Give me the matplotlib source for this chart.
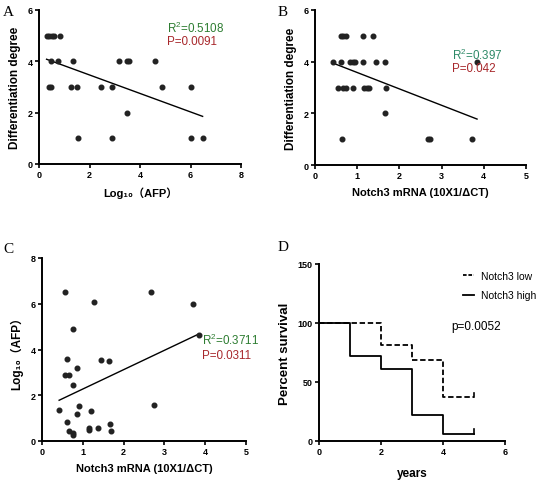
import numpy as np
import matplotlib
matplotlib.use("Agg")
import matplotlib.pyplot as plt
from matplotlib.lines import Line2D

plt.rcParams['font.family'] = ['Liberation Sans', 'Noto Sans CJK SC', 'DejaVu Sans']
plt.rcParams['mathtext.fontset'] = 'custom'
plt.rcParams['mathtext.rm'] = 'Liberation Sans'
plt.rcParams['mathtext.it'] = 'Liberation Sans:italic'
plt.rcParams['mathtext.bf'] = 'Liberation Sans:bold'

# ---- data ----
# A: Log10(AFP) vs differentiation degree
a_x = [0.3, 0.4, 0.5, 0.6, 0.85, 0.49, 0.75, 1.35, 3.17, 3.5, 3.58, 4.6,
       0.4, 0.46, 1.28, 1.5, 2.44, 2.89, 4.86, 6.03, 3.48, 1.56, 2.89, 6.0, 6.48]
a_y = [5, 5, 5, 5, 5, 4, 4, 4, 4, 4, 4, 4,
       3, 3, 3, 3, 3, 3, 3, 3, 2, 1, 1, 1, 1]

# B: Notch3 mRNA vs differentiation degree
b_x = [0.61, 0.66, 0.74, 1.13, 1.38,
       0.42, 0.61, 0.83, 0.89, 0.95, 1.13, 1.45, 1.66, 3.84,
       0.55, 0.66, 0.74, 0.89, 1.17, 1.23, 1.28, 1.69,
       1.65, 0.65, 2.67, 2.73, 3.72]
b_y = [5, 5, 5, 5, 5,
       4, 4, 4, 4, 4, 4, 4, 4, 4,
       3, 3, 3, 3, 3, 3, 3, 3,
       2, 1, 1, 1, 1]

# C: Notch3 mRNA vs Log10(AFP)
c_x = [0.56, 1.27, 2.66, 3.70, 3.84, 0.76, 0.61, 1.45, 1.65, 0.87, 0.57, 0.66,
       0.76, 0.42, 0.90, 0.86, 1.20, 2.74, 0.61, 0.65, 0.75, 0.75, 1.14, 1.14,
       1.38, 1.66, 1.69]
c_y = [6.53, 6.06, 6.5, 6.01, 4.64, 4.89, 3.58, 3.55, 3.50, 3.18, 2.89, 2.89,
       2.45, 1.34, 1.52, 1.17, 1.30, 1.58, 0.85, 0.44, 0.36, 0.26, 0.57, 0.48,
       0.58, 0.76, 0.45]

# D: survival
low_t = [0, 2, 3, 4, 5]
low_s = [100, 81, 69, 37, 37]
high_t = [0, 1, 2, 3, 4, 5]
high_s = [100, 72, 61, 22, 6, 6]

green = "#2e7d32"
teal = "#2e8a68"
red = "#a8282c"
dot = "#222222"
log_afp = "Log₁₀（AFP）"

fig = plt.figure(figsize=(5.5, 4.85), dpi=100)


def style(ax):
    for s in ["top", "right"]:
        ax.spines[s].set_visible(False)
    for s in ["left", "bottom"]:
        ax.spines[s].set_linewidth(1.4)
    ax.tick_params(direction="out", length=3, width=1.2, labelsize=6.5, pad=1.5)
    for lab in ax.get_xticklabels() + ax.get_yticklabels():
        lab.set_fontweight("bold")


def scatter_fit(ax, x, y):
    ax.scatter(x, y, s=11, color=dot, zorder=3, clip_on=False)
    k, b = np.polyfit(x, y, 1)
    xs = np.array([min(x), max(x)])
    ax.plot(xs, k * xs + b, color="black", lw=1.0)


# ---- A ----
ax = fig.add_axes([39 / 550, 1 - 165 / 485, 202 / 550, 154 / 485])
scatter_fit(ax, a_x, a_y)
ax.set_xlim(0, 8)
ax.set_ylim(0, 6)
ax.set_xticks([0, 2, 4, 6, 8])
ax.set_yticks([0, 2, 4, 6])
style(ax)
ax.set_xlabel(log_afp, fontsize=8, fontweight="bold", labelpad=5)
ax.set_ylabel("Differentiation degree", fontsize=8.5, fontweight="bold", labelpad=5)
ax.text(0.635, 0.89, r"R$^2$=0.5108", transform=ax.transAxes, color=green,
        fontsize=8.4, va="center")
ax.text(0.635, 0.80, "P=0.0091", transform=ax.transAxes, color=red,
        fontsize=8.4, va="center")

# ---- B ----
ax = fig.add_axes([315 / 550, 1 - 166 / 485, 211 / 550, 155 / 485])
scatter_fit(ax, b_x, b_y)
ax.set_xlim(0, 5)
ax.set_ylim(0, 6)
ax.set_xticks([0, 1, 2, 3, 4, 5])
ax.set_yticks([0, 2, 4, 6])
style(ax)
ax.set_xlabel("Notch3 mRNA (10X1/ΔCT)", fontsize=8, fontweight="bold", labelpad=5)
ax.set_ylabel("Differentiation degree", fontsize=8.5, fontweight="bold", labelpad=5)
ax.text(0.65, 0.712, r"R$^2$=0.397", transform=ax.transAxes, color=teal,
        fontsize=8.4, va="center")
ax.text(0.65, 0.628, "P=0.042", transform=ax.transAxes, color=red,
        fontsize=8.4, va="center")

# ---- C ----
ax = fig.add_axes([42 / 550, 1 - 442 / 485, 204 / 550, 183 / 485])
scatter_fit(ax, c_x, c_y)
ax.set_xlim(0, 5)
ax.set_ylim(0, 8)
ax.set_xticks([0, 1, 2, 3, 4, 5])
ax.set_yticks([0, 2, 4, 6, 8])
style(ax)
ax.set_xlabel("Notch3 mRNA (10X1/ΔCT)", fontsize=8, fontweight="bold", labelpad=5)
ax.set_ylabel(log_afp, fontsize=8.5, fontweight="bold", labelpad=5)
ax.text(0.784, 0.557, r"R$^2$=0.3711", transform=ax.transAxes, color=green,
        fontsize=8.4, va="center")
ax.text(0.784, 0.47, "P=0.0311", transform=ax.transAxes, color=red,
        fontsize=8.4, va="center")

# ---- D ----
ax = fig.add_axes([319 / 550, 1 - 442 / 485, 186 / 550, 177 / 485])
ax.step(low_t, low_s, where="post", color="black", lw=1.3, linestyle=(0, (3, 1.5)))
ax.step(high_t, high_s, where="post", color="black", lw=1.3)
# censor ticks at the last time point
ax.plot([low_t[-1], low_t[-1]], [low_s[-1], low_s[-1] + 4], color="black", lw=1.2)
ax.plot([high_t[-1], high_t[-1]], [high_s[-1], high_s[-1] + 4], color="black", lw=1.2)
ax.set_xlim(0, 6)
ax.set_ylim(0, 150)
ax.set_xticks([0, 2, 4, 6])
ax.set_yticks([0, 50, 100, 150])
style(ax)
ax.set_xlabel("years", fontsize=8.5, fontweight="bold", labelpad=8)
ax.set_ylabel("Percent survival", fontsize=9.5, fontweight="bold", labelpad=5)
ax.text(0.71, 0.65, "p=0.0052", transform=ax.transAxes, fontsize=8.5, va="center")
handles = [Line2D([], [], color="black", lw=1.3, linestyle=(0, (2, 1))),
           Line2D([], [], color="black", lw=1.3)]
ax.legend(handles, ["Notch3 low", "Notch3 high"], loc="upper left",
          bbox_to_anchor=(0.75, 0.985), frameon=False, fontsize=7.5,
          handlelength=1.1, handletextpad=0.7, labelspacing=0.9, borderaxespad=0)

# panel letters
for lab, x, y in [("A", 3, 12), ("B", 278, 12), ("C", 3, 250), ("D", 278, 248)]:
    fig.text(x / 550, 1 - y / 485, lab, family="Liberation Serif", fontsize=11,
             va="center", ha="left")

fig.savefig("out.png", dpi=100)
